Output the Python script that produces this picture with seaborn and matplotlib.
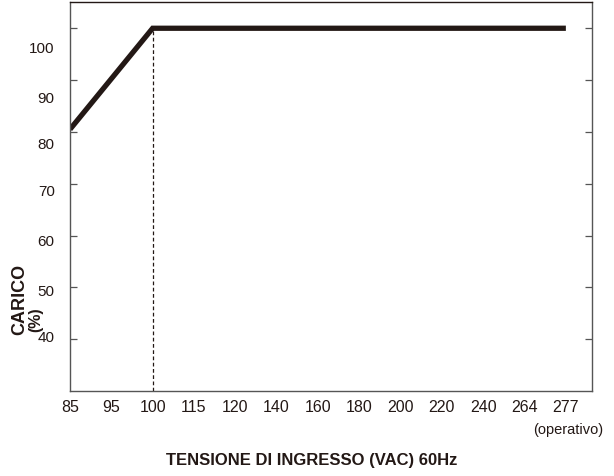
import numpy as np
import pandas as pd
import matplotlib
matplotlib.use("Agg")
import matplotlib.pyplot as plt
import seaborn as sns

# dati
x_ticks = ['85', '95', '100', '115', '120', '140', '160', '180', '200', '220', '240', '264', '277']
curve_vac = ['85', '100', '277']
curve_load = [80.5, 100, 100]
y_ticks = [40, 50, 60, 70, 80, 90, 100]
# le etichette dell'asse Y nell'originale non stanno esattamente sulle tacche
y_label_pos = [40.8, 49.6, 59.3, 68.9, 78.0, 86.9, 96.5]

df = pd.DataFrame({'pos': [x_ticks.index(v) for v in curve_vac], 'load': curve_load})

sns.set_style("white")
narrow = ['Liberation Sans Narrow', 'Liberation Sans', 'DejaVu Sans']
ink = '#231815'
spine = '#555555'

fig = plt.figure(figsize=(6.14, 4.77), dpi=100)
ax = fig.add_axes([0.114, 0.178, 0.850, 0.815])

sns.lineplot(data=df, x='pos', y='load', ax=ax, color=ink, linewidth=3.8,
             solid_capstyle='butt', solid_joinstyle='miter')
ax.vlines(x_ticks.index('100'), 30, 100, colors=ink, linestyles=(0, (3, 2)), linewidth=0.9)

ax.set_xlim(0, 12.63)
ax.set_ylim(30, 105)

ax.set_xticks(range(len(x_ticks)))
ax.set_xticklabels(x_ticks, fontfamily=narrow, fontsize=11.5, color=ink)
ax.tick_params(axis='x', direction='in', length=6.5, width=0.9, color=spine, pad=6)

# tacche (minori) sui valori, etichette (maggiori) senza tacca
ax.set_yticks(y_ticks, minor=True)
ax.set_yticks(y_label_pos)
ax.set_yticklabels([str(v) for v in y_ticks], fontfamily=narrow, fontsize=11, color=ink)
ax.tick_params(axis='y', which='major', length=0, pad=11)
ax.tick_params(axis='y', which='minor', direction='in', length=5, width=0.9,
               color=spine, left=True, right=True)

for side in ['left', 'right', 'bottom']:
    ax.spines[side].set_color(spine)
    ax.spines[side].set_linewidth(1.0)
ax.spines['top'].set_color(ink)
ax.spines['top'].set_linewidth(1.0)

ax.set_xlabel('')
ax.set_ylabel('')

fig.text(0.508, 0.035, 'TENSIONE DI INGRESSO (VAC) 60Hz', ha='center', va='center',
         fontfamily=narrow, fontweight='bold', fontsize=12, color=ink)
fig.text(0.032, 0.372, 'CARICO', rotation=90, ha='center', va='center',
         fontfamily=['Liberation Sans', 'DejaVu Sans'], fontweight='bold', fontsize=13, color=ink)
fig.text(0.058, 0.330, '(%)', rotation=90, ha='center', va='center',
         fontfamily=narrow, fontweight='bold', fontsize=11.5, color=ink)
fig.text(0.982, 0.098, '(operativo)', ha='right', va='center',
         fontfamily=narrow, fontsize=10.5, color=ink)

fig.savefig('out.png', dpi=100, facecolor='white')
